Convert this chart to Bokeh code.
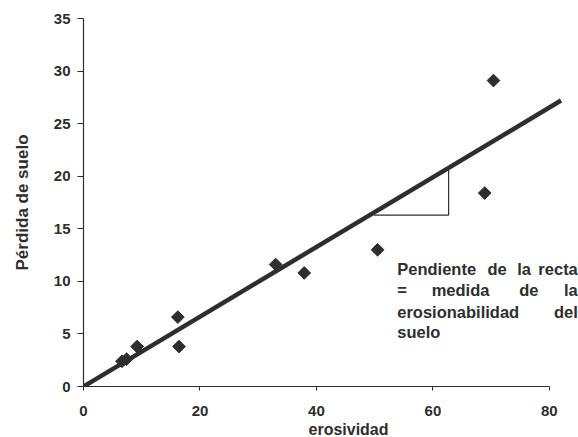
import math
from bokeh.plotting import figure
from bokeh.models import Range1d, Label, FixedTicker, Title
from bokeh.embed import file_html
from bokeh.resources import INLINE

# data
erosividad = [6.6, 7.4, 9.2, 16.2, 16.4, 33.0, 37.9, 50.5, 68.9, 70.4]
perdida = [2.4, 2.6, 3.8, 6.6, 3.8, 11.6, 10.8, 13.0, 18.4, 29.1]
line_x = [0, 82]
line_y = [0, 27.2]
tri_x = [49.9, 62.7, 62.7]
tri_y = [16.3, 16.3, 20.6]
x_ticks = [0, 20, 40, 60, 80]
y_ticks = [0, 5, 10, 15, 20, 25, 30, 35]

INK = "#2e2e2e"
FONT = "Liberation Sans"

p = figure(width=578, height=437, output_backend="svg", toolbar_location=None,
           x_range=Range1d(0, 85), y_range=Range1d(0, 35),
           min_border_left=83, min_border_right=0, min_border_top=18,
           min_border_bottom=0)
p.outline_line_color = None
p.grid.visible = False

for ax in (p.xaxis[0], p.yaxis[0]):
    ax.axis_line_color = INK
    ax.axis_line_width = 1.2
    ax.major_tick_line_color = INK
    ax.major_tick_in = 0
    ax.minor_tick_line_color = None
    ax.major_label_text_font = FONT
    ax.major_label_text_font_style = "bold"
    ax.major_label_text_font_size = "15px"
    ax.major_label_text_color = INK
    ax.axis_label_text_font = FONT
    ax.axis_label_text_font_style = "bold"
    ax.axis_label_text_color = INK

p.xaxis[0].ticker = FixedTicker(ticks=x_ticks)
p.yaxis[0].ticker = FixedTicker(ticks=y_ticks)
p.xaxis[0].bounds = (0, 80)
p.yaxis[0].bounds = (0, 35)
p.xaxis[0].major_tick_out = 4
p.yaxis[0].major_tick_out = 6
p.xaxis[0].major_label_standoff = 15
p.yaxis[0].major_label_standoff = 7
p.yaxis[0].axis_label = "Pérdida de suelo"
p.yaxis[0].axis_label_text_font_size = "17px"
p.yaxis[0].axis_label_standoff = 19

# x-axis title, left edge aligned with the "40" tick label as in the source
p.add_layout(Title(text="erosividad", align="left", offset=225, standoff=0,
                   text_font=FONT, text_font_style="bold",
                   text_font_size="16px", text_color=INK), "below")

p.line(line_x, line_y, line_color=INK, line_width=4.5)
p.line(tri_x, tri_y, line_color=INK, line_width=1.2)
p.scatter(erosividad, perdida, marker="square", angle=math.pi / 4, size=9,
          fill_color=INK, line_color=INK)

# justified annotation text
words = [
    ("Pendiente", 53.87, 11.21, "left"), ("de", 71.03, 11.21, "center"),
    ("la", 75.67, 11.21, "center"), ("recta", 84.88, 11.21, "right"),
    ("=", 53.87, 9.16, "left"), ("medida", 64.74, 9.16, "center"),
    ("de", 76.47, 9.16, "center"), ("la", 84.88, 9.16, "right"),
    ("erosionabilidad", 53.87, 7.10, "left"), ("del", 84.88, 7.10, "right"),
    ("suelo", 53.87, 5.20, "left"),
]
for w, x, y, al in words:
    p.add_layout(Label(x=x, y=y, text=w, text_align=al, text_baseline="middle",
                       text_font=FONT, text_font_style="bold",
                       text_font_size="16.5px", text_color=INK))

open("out.html", "w").write(file_html(p, INLINE))
